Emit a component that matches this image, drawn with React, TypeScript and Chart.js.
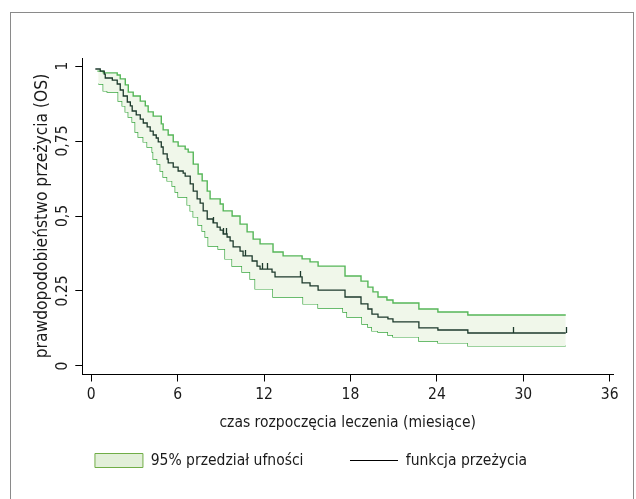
import React, { useEffect, useRef } from "react";
import { Chart, registerables } from "chart.js";

Chart.register(...registerables);

// ---- data (months, survival probability) ----
const survTimes = [0.28, 0.62, 0.9, 0.97, 1.46, 1.8, 2.01, 2.22, 2.5, 2.71, 2.84, 3.12, 3.4, 3.61, 3.88, 4.09, 4.3, 4.51, 4.65, 4.86, 4.99, 5.27, 5.34, 5.69, 6.03, 6.38, 6.52, 6.87, 7.08, 7.35, 7.56, 7.77, 8.05, 8.46, 8.74, 8.95, 9.16, 9.43, 9.64, 9.85, 10.33, 10.54, 11.17, 11.51, 11.72, 12.55, 12.76, 14.64, 15.19, 15.75, 17.62, 18.73, 19.21, 19.49, 19.91, 20.6, 20.95, 22.75, 24.07, 26.15, 32.95];
const survValues = [0.99, 0.983, 0.973, 0.96, 0.953, 0.94, 0.92, 0.9, 0.88, 0.867, 0.85, 0.837, 0.823, 0.81, 0.797, 0.783, 0.77, 0.76, 0.747, 0.73, 0.707, 0.69, 0.677, 0.663, 0.65, 0.643, 0.633, 0.607, 0.583, 0.557, 0.543, 0.517, 0.49, 0.477, 0.463, 0.453, 0.44, 0.43, 0.417, 0.397, 0.383, 0.367, 0.35, 0.333, 0.323, 0.313, 0.297, 0.277, 0.267, 0.253, 0.23, 0.207, 0.19, 0.173, 0.163, 0.157, 0.147, 0.127, 0.12, 0.11, 0.11];

const upperTimes = [0.42, 0.83, 1.8, 2.01, 2.36, 2.57, 2.91, 3.4, 3.75, 3.95, 4.3, 4.86, 4.99, 5.34, 5.69, 6.03, 6.52, 6.73, 7.08, 7.42, 7.7, 8.05, 8.25, 8.95, 9.16, 9.78, 10.33, 10.82, 11.24, 11.72, 12.62, 13.32, 14.64, 15.19, 15.75, 17.62, 18.73, 19.21, 19.56, 19.91, 20.53, 20.95, 22.75, 24.07, 26.15, 32.95];
const upperValues = [0.983, 0.977, 0.97, 0.957, 0.937, 0.913, 0.9, 0.883, 0.867, 0.847, 0.833, 0.807, 0.787, 0.77, 0.747, 0.733, 0.723, 0.713, 0.673, 0.64, 0.617, 0.583, 0.557, 0.54, 0.517, 0.5, 0.473, 0.447, 0.423, 0.407, 0.38, 0.367, 0.357, 0.347, 0.333, 0.3, 0.283, 0.263, 0.247, 0.23, 0.22, 0.21, 0.19, 0.18, 0.17, 0.17];

const lowerTimes = [0.49, 0.83, 1.11, 1.87, 2.15, 2.36, 2.57, 2.84, 3.05, 3.26, 3.61, 3.88, 4.23, 4.3, 4.58, 4.79, 4.99, 5.27, 5.62, 5.83, 6.03, 6.66, 6.87, 7.08, 7.42, 7.7, 7.91, 8.12, 8.81, 9.29, 9.78, 10.47, 11.03, 11.38, 12.62, 14.71, 15.75, 17.48, 17.76, 18.8, 19.21, 19.49, 19.91, 20.6, 20.95, 22.75, 24.07, 26.15, 32.95];
const lowerValues = [0.94, 0.917, 0.913, 0.883, 0.867, 0.847, 0.83, 0.813, 0.78, 0.763, 0.747, 0.73, 0.713, 0.69, 0.673, 0.65, 0.63, 0.617, 0.6, 0.58, 0.563, 0.537, 0.517, 0.497, 0.47, 0.45, 0.43, 0.4, 0.39, 0.357, 0.333, 0.313, 0.29, 0.257, 0.23, 0.207, 0.193, 0.18, 0.163, 0.14, 0.13, 0.117, 0.113, 0.103, 0.097, 0.083, 0.077, 0.067, 0.067];

const censorTimes = [8.46, 9.16, 9.36, 10.68, 11.86, 12.2, 14.5, 29.27, 32.95];

const xTicks = [0, 6, 12, 18, 24, 30, 36];
const yTicks = [0, 0.25, 0.5, 0.75, 1];
const yTickLabels = ["0", "0.25", "0,5", "0,75", "1"];

const xTitle = "czas rozpoczęcia leczenia (miesiące)";
const yTitle = "prawdopodobieństwo przeżycia (OS)";
const legendLabels = ["95% przedział ufności", "funkcja przeżycia"];

const FONT = "'Liberation Sans Narrow', 'Arial Narrow', 'DejaVu Sans Condensed', sans-serif";
const TEXT = "#1a1a1a";

function toPoints(ts: number[], vs: number[]) {
  return ts.map((t, i) => ({ x: t, y: vs[i] }));
}

function survivalAt(t: number) {
  let v = survValues[0];
  for (let i = 0; i < survTimes.length; i++) {
    if (survTimes[i] <= t + 1e-9) v = survValues[i];
  }
  return v;
}

const framePlugin = {
  id: "frame",
  beforeDraw(chart: any) {
    const ctx = chart.ctx;
    ctx.save();
    ctx.fillStyle = "#ffffff";
    ctx.fillRect(0, 0, chart.width, chart.height);
    ctx.strokeStyle = "#8a8a8a";
    ctx.lineWidth = 1;
    ctx.strokeRect(10.5, 12.5, 623, 600);
    ctx.restore();
  },
};

const censorPlugin = {
  id: "censor",
  afterDatasetsDraw(chart: any) {
    const xs = chart.scales.x;
    const ys = chart.scales.y;
    const ctx = chart.ctx;
    ctx.save();
    ctx.strokeStyle = "#1d3a2c";
    ctx.lineWidth = 1.3;
    ctx.beginPath();
    censorTimes.forEach((t) => {
      const px = Math.round(xs.getPixelForValue(t)) + 0.5;
      const py = ys.getPixelForValue(survivalAt(t));
      ctx.moveTo(px, py);
      ctx.lineTo(px, py - 6);
    });
    ctx.stroke();
    ctx.restore();
  },
};

export default function App() {
  const ref = useRef<HTMLCanvasElement | null>(null);

  useEffect(() => {
    if (!ref.current) return;
    const font = { family: FONT, size: 15.5 };
    const yTitleFont = { family: FONT, size: 17.3 };
    const chart = new Chart(ref.current, {
      type: "line",
      data: {
        datasets: [
          {
            label: legendLabels[1],
            data: toPoints(survTimes, survValues),
            stepped: "before",
            borderColor: "#1d3a2c",
            borderWidth: 1.3,
            fill: false,
            pointRadius: 0,
          },
          {
            label: legendLabels[0],
            data: toPoints(upperTimes, upperValues),
            stepped: "before",
            borderColor: "#55b658",
            borderWidth: 1.4,
            backgroundColor: "#f0f7ea",
            fill: "+1",
            pointRadius: 0,
          },
          {
            label: "lower",
            data: toPoints(lowerTimes, lowerValues),
            stepped: "before",
            borderColor: "#3aa63f",
            borderWidth: 1.4,
            fill: false,
            pointRadius: 0,
          },
        ],
      } as any,
      options: {
        responsive: false,
        animation: false,
        events: [],
        layout: { padding: { left: 9, top: 58, right: 23, bottom: 20.75 } },
        plugins: {
          tooltip: { enabled: false },
          legend: {
            position: "bottom",
            labels: {
              usePointStyle: true,
              pointStyleWidth: 48,
              boxHeight: 14,
              padding: 46.5,
              color: TEXT,
              font,
              generateLabels: () => [
                {
                  text: legendLabels[0],
                  fillStyle: "#e2efd9",
                  strokeStyle: "#70ad47",
                  lineWidth: 1,
                  pointStyle: "rect",
                  hidden: false,
                  fontColor: TEXT,
                  datasetIndex: 1,
                },
                {
                  text: legendLabels[1],
                  fillStyle: "#000000",
                  strokeStyle: "#000000",
                  lineWidth: 1.2,
                  pointStyle: "line",
                  hidden: false,
                  fontColor: TEXT,
                  datasetIndex: 0,
                },
              ],
            },
          },
        },
        scales: {
          x: {
            type: "linear",
            min: -0.625,
            max: 36.23,
            afterBuildTicks: (s: any) => {
              s.ticks = xTicks.map((v) => ({ value: v }));
            },
            afterFit: (s: any) => {
              s.height = 32.25;
            },
            grid: { display: true, drawOnChartArea: false, drawTicks: true, tickLength: 7.5, color: "#000" },
            border: { display: true, color: "#000", width: 1 },
            ticks: {
              padding: 4,
              color: TEXT,
              font,
              maxRotation: 0,
              autoSkip: false,
              callback: (v: any) => String(v),
            },
            title: { display: true, text: xTitle, color: TEXT, font, padding: { top: 0, bottom: -26.05 } },
          },
          y: {
            type: "linear",
            min: -0.0267,
            max: 1.0267,
            afterBuildTicks: (s: any) => {
              s.ticks = yTicks.map((v) => ({ value: v }));
            },
            afterFit: (s: any) => {
              s.width = 73.3;
            },
            grid: { display: true, drawOnChartArea: false, drawTicks: true, tickLength: 7, color: "#000" },
            border: { display: true, color: "#000", width: 1 },
            ticks: {
              minRotation: 90,
              maxRotation: 90,
              crossAlign: "center",
              padding: -3,
              color: TEXT,
              font,
              autoSkip: false,
              callback: (_v: any, i: number) => yTickLabels[i],
            },
            title: { display: true, text: yTitle, color: TEXT, font: yTitleFont, padding: { top: 23, bottom: 0 } },
          },
        },
      } as any,
      plugins: [framePlugin, censorPlugin],
    });
    return () => chart.destroy();
  }, []);

  return (
    <div style={{ position: "absolute", left: 0, top: 0, width: 636, height: 499 }}>
      <canvas ref={ref} width={636} height={499} style={{ display: "block" }} />
    </div>
  );
}
